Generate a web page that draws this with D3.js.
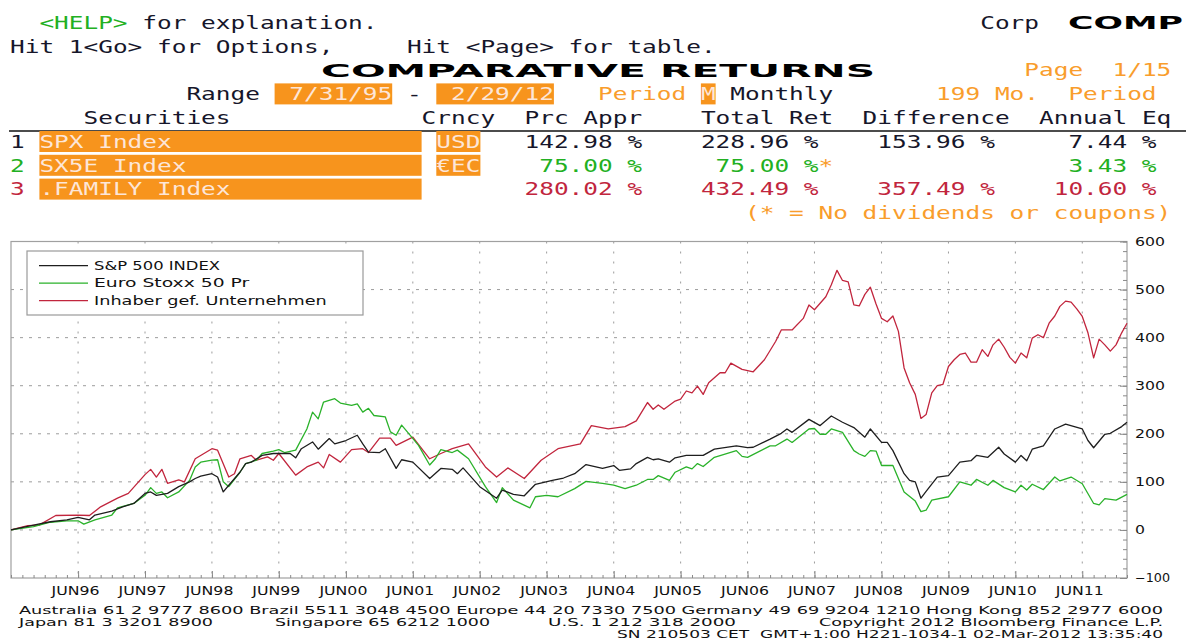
<!DOCTYPE html>
<html>
<head>
<meta charset="utf-8">
<script src="https://cdn.jsdelivr.net/npm/d3@7"></script>
<style>
  body { margin: 0; background: #fff; }
  svg { display: block; }
  text { white-space: pre; }
</style>
</head>
<body>
<div id="main"></div>
<script>
// ---------------- data ----------------
// chart series, months counted from the end of June 1995 (0) to end of Feb 2012 (200)
const seriesNames = ["S&P 500 INDEX", "Euro Stoxx 50 Pr", "Inhaber gef. Unternehmen"];
const seriesColors = ["#1e1e1e", "#2ab22a", "#c1253d"];

const spxMonths = [0,4,7,10,12,14,15,18,20,22,24,25,26,28,30,32,33,34,36,37,38,39,41,42,43,45,47,48,50,51,52,54,55,57,58,60,62,63,64,66,67,69,70,72,75,77,79,80,81,84,87,88,90,92,94,97,99,
  101,103,106,108,109,111,112,114,115,116,118,119,121,124,126,130,132,133,136,138,139,140,143,145,147,149,151,153,154,156,157,158,160,161,162,163,164,166,168,170,172,173,175,177,178,180,181,182,183,185,187,189,192,193,194,196,197,199,200];
const spxValues = [0,10,17,21,26,21,31,39,48,55,76,79,72,76,90,100,107,112,117,110,79,93,120,138,141,155,159,159,159,150,169,183,168,190,179,186,197,179,162,161,169,128,146,141,107,128,126,117,129,90,66,83,74,71,95,103,108,
  117,136,128,134,124,127,138,151,146,148,141,150,155,155,168,175,171,172,189,201,210,203,230,217,237,224,213,193,210,182,182,165,117,103,100,66,80,110,113,141,144,155,151,172,158,141,155,144,168,175,210,220,210,186,171,199,201,215,224];

const sx5eMonths = [0,4,7,10,12,13,15,18,19,22,24,25,26,27,28,30,32,33,34,36,37,38,39,41,42,44,45,47,48,49,51,53,54,55,56,58,59,61,62,63,64,65,67,68,69,70,71,73,75,76,77,79,80,82,85,87,88,90,93,94,96,98,
  101,103,106,108,110,112,114,115,116,118,119,121,122,123,124,126,130,131,132,136,137,139,140,143,144,145,146,147,149,151,152,153,154,155,156,158,160,162,163,164,165,168,170,172,173,175,176,178,180,181,182,183,185,187,188,190,192,194,195,196,198,200];
const sx5eValues = [0,7,16,19,19,12,21,31,46,55,72,88,76,79,67,79,103,131,141,145,146,100,90,120,138,145,159,164,167,161,166,210,245,231,266,273,264,259,262,245,253,238,235,204,197,218,204,176,135,148,167,161,166,148,90,57,88,62,46,69,72,69,
  86,101,97,93,86,93,105,105,113,103,120,131,127,138,132,151,165,153,151,175,175,189,182,210,211,199,199,210,203,165,158,153,165,164,134,134,79,60,38,41,62,69,100,93,105,93,103,88,79,93,83,95,84,110,102,110,96,55,52,65,62,74];

const familyMonths = [0,3,5,8,12,14,16,19,21,24,25,26,27,28,30,31,33,36,37,39,40,41,43,44,46,47,48,51,53,55,56,57,59,61,63,64,66,68,69,72,75,77,79,82,85,87,89,92,95,98,
  102,104,107,110,112,114,115,116,117,119,120,121,122,123,124,125,127,128,129,131,133,135,137,138,140,142,143,144,146,147,148,149,150,151,152,153,154,155,156,157,158,159,160,161,162,163,164,165,166,167,168,169,170,171,172,173,174,175,176,177,178,179,180,181,182,183,184,185,186,187,188,189,190,191,192,193,194,195,196,197,198,199,200];
const familyValues = [0,9,10,30,31,30,48,66,76,115,126,110,126,97,104,100,148,169,166,110,117,148,155,145,152,145,159,114,131,141,129,157,141,167,169,161,191,191,176,193,148,159,169,179,131,110,129,107,145,169,
  179,217,210,215,227,265,251,260,251,268,272,289,285,299,282,306,327,327,347,334,329,354,392,416,416,440,468,458,485,510,540,519,516,468,466,490,505,470,440,433,445,413,337,306,282,232,240,285,300,303,340,354,365,368,349,349,375,361,385,397,380,359,347,368,358,399,406,400,430,445,465,476,474,460,444,410,358,397,385,372,385,410,430];

const yTicks = [-100, 0, 100, 200, 300, 400, 500, 600];
const yGrid = [0, 100, 200, 300, 400, 500];
const yearLabels = ["JUN96","JUN97","JUN98","JUN99","JUN00","JUN01","JUN02","JUN03",
  "JUN04","JUN05","JUN06","JUN07","JUN08","JUN09","JUN10","JUN11"];

// comparison table
const secNames = ["SPX Index", "SX5E Index", ".FAMILY Index"];
const secCurrency = ["USD", "\u20acEC", ""];
const prcAppr = ["142.98", "75.00", "280.02"];
const totalRet = ["228.96", "75.00", "432.49"];
const difference = ["153.96", "", "357.49"];
const annualEq = ["7.44", "3.43", "10.60"];
const secColors = ["#16162a", "#22b022", "#c1253d"];

// ---------------- page ----------------
const W = 1186, H = 641;
const orange = "#f7941d", orangeText = "#f99d2c", boxText = "#fde6d8", dark = "#16162a", green = "#22b022";

const svg = d3.select("#main")
    .append("svg")
    .attr("width", W)
    .attr("height", H)

// terminal header: 80 column grid
const cw = 14.7, x0 = 10;
const rowY = r => 22.5 + r * 23.8;
const head = svg.append("g")

function cell(col, row, str, color) {
    return head.append("text")
        .attr("x", x0 + col * cw)
        .attr("y", rowY(row) + 6.2)
        .attr("fill", color)
        .style("font-family", "'DejaVu Sans Mono', monospace")
        .style("font-size", "17px")
        .attr("textLength", str.length * cw)
        .attr("lengthAdjust", "spacingAndGlyphs")
        .text(str)
}
function box(col, n, row) {
    head.append("rect")
        .attr("x", x0 + col * cw)
        .attr("y", rowY(row) - 10.5)
        .attr("width", n * cw)
        .attr("height", 21)
        .attr("fill", orange)
}
function wide(x, row, str, len) {
    head.append("text")
        .attr("x", x)
        .attr("y", rowY(row) + 6.8)
        .attr("fill", "#000")
        .style("font-family", "'DejaVu Sans', sans-serif")
        .style("font-weight", "bold")
        .style("font-size", "18.5px")
        .attr("textLength", len)
        .attr("lengthAdjust", "spacingAndGlyphs")
        .text(str)
}

cell(2, 0, "<HELP>", green)
cell(9, 0, "for explanation.", dark)
cell(66, 0, "Corp", dark)
wide(1068, 0, "COMP", 115)

cell(0, 1, "Hit 1<Go> for Options,", dark)
cell(27, 1, "Hit <Page> for table.", dark)

wide(321, 2, "COMPARATIVE RETURNS", 554)
cell(69, 2, "Page  1/15", orangeText)

cell(12, 3, "Range", dark)
box(18, 8, 3)
cell(18, 3, " 7/31/95", boxText)
cell(27, 3, "-", dark)
box(29, 8, 3)
cell(29, 3, " 2/29/12", boxText)
cell(40, 3, "Period", orangeText)
box(47, 1, 3)
cell(47, 3, "M", boxText)
cell(49, 3, "Monthly", dark)
cell(63, 3, "199 Mo.", orangeText)
cell(72, 3, "Period", orangeText)

cell(5, 4, "Securities", dark)
cell(28, 4, "Crncy", dark)
cell(35, 4, "Prc Appr", dark)
cell(47, 4, "Total Ret", dark)
cell(58, 4, "Difference", dark)
cell(70, 4, "Annual Eq", dark)
head.append("line")
    .attr("x1", 9).attr("x2", W)
    .attr("y1", 131).attr("y2", 131)
    .attr("stroke", "#111").attr("stroke-width", 1.5)

secNames.forEach((name, i) => {
    const row = 5 + i, c = secColors[i];
    cell(0, row, String(i + 1), c)
    box(2, 26, row)
    cell(2, row, name, boxText)
    if (secCurrency[i]) {
        box(29, 3, row)
        cell(29, row, secCurrency[i], boxText)
    }
    cell(41 - prcAppr[i].length, row, prcAppr[i] + " %", c)
    cell(53 - totalRet[i].length, row, totalRet[i] + " %", c)
    if (difference[i]) cell(65 - difference[i].length, row, difference[i] + " %", c)
    else cell(55, row, "*", orangeText)
    cell(76 - annualEq[i].length, row, annualEq[i] + " %", c)
})
cell(50, 8, "(* = No dividends or coupons)", orangeText)

// ---------------- chart ----------------
const plot = { left: 11, right: 1127, top: 241.5, bottom: 578 };
const monthEnd = m => new Date(1995, 6 + m, 0);

const x = d3.scaleTime()
    .domain([monthEnd(0), monthEnd(200)])
    .range([plot.left, plot.right]);

const y = d3.scaleLinear()
    .domain([-100, 600])
    .range([plot.bottom, plot.top]);

const junTicks = yearLabels.map((d, i) => monthEnd(12 * (i + 1)));
const minorX = d3.range(0, 201, 2).map(monthEnd);
const minorY = d3.range(-100, 601, 20);

const chart = svg.append("g")
const chartFont = "'DejaVu Sans', Verdana, sans-serif";

// grid
chart.append("g")
    .selectAll("line")
    .data(yGrid)
    .join("line")
    .attr("x1", plot.left).attr("x2", plot.right)
    .attr("y1", d => y(d)).attr("y2", d => y(d))
    .attr("stroke", "#9c9c9c")
    .attr("stroke-dasharray", "3,6")

chart.append("g")
    .selectAll("line")
    .data(junTicks)
    .join("line")
    .attr("x1", d => x(d)).attr("x2", d => x(d))
    .attr("y1", plot.top).attr("y2", plot.bottom)
    .attr("stroke", "#9c9c9c")
    .attr("stroke-dasharray", "2,8")

// frame
chart.append("rect")
    .attr("x", plot.left).attr("y", plot.top)
    .attr("width", plot.right - plot.left)
    .attr("height", plot.bottom - plot.top)
    .attr("fill", "none")
    .attr("stroke", "#a0a0a0")
    .attr("stroke-width", 1.2)

// bottom axis: minor ticks every 2 months, major at June
chart.append("g")
    .attr("transform", `translate(0, ${plot.bottom})`)
    .call(d3.axisBottom(x).tickValues(minorX).tickSize(-3).tickFormat(""))
    .call(g => g.select(".domain").remove())
    .call(g => g.selectAll("line").attr("stroke", "#8a8a8a"))

const xAx = chart.append("g")
    .attr("transform", `translate(0, ${plot.bottom})`)
    .call(d3.axisBottom(x).tickValues(junTicks).tickSize(-7).tickPadding(9)
        .tickFormat((d, i) => yearLabels[i]))
xAx.select(".domain").remove()
xAx.selectAll("line").attr("stroke", "#8a8a8a")
xAx.selectAll("text")
    .attr("dx", -3)
    .attr("fill", "#111")
    .style("font-family", chartFont)
    .style("font-size", "11.5px")
    .attr("textLength", 48)
    .attr("lengthAdjust", "spacingAndGlyphs")

// right axis
chart.append("g")
    .attr("transform", `translate(${plot.right}, 0)`)
    .call(d3.axisRight(y).tickValues(minorY).tickSize(-4).tickFormat(""))
    .call(g => g.select(".domain").remove())
    .call(g => g.selectAll("line").attr("stroke", "#8a8a8a"))

const yAx = chart.append("g")
    .attr("transform", `translate(${plot.right}, 0)`)
    .call(d3.axisRight(y).tickValues(yTicks).tickSize(-7).tickPadding(8))
yAx.select(".domain").remove()
yAx.selectAll("line").attr("stroke", "#8a8a8a")
yAx.selectAll("text")
    .attr("fill", "#111")
    .style("font-family", chartFont)
    .style("font-size", "11.5px")
    .attr("textLength", d => String(Math.abs(d)).length * 10 + (d < 0 ? 5 : 0))
    .attr("lengthAdjust", "spacingAndGlyphs")

// lines
const series = [
    { months: familyMonths, values: familyValues, color: seriesColors[2] },
    { months: sx5eMonths, values: sx5eValues, color: seriesColors[1] },
    { months: spxMonths, values: spxValues, color: seriesColors[0] }
];
const line = d3.line()
    .x(d => x(d.date))
    .y(d => y(d.value));

series.forEach(s => {
    const pts = s.months.map((m, i) => ({ date: monthEnd(m), value: s.values[i] }))
    chart.append("path")
        .datum(pts)
        .attr("d", line)
        .attr("fill", "none")
        .attr("stroke", s.color)
        .attr("stroke-width", 1.3)
        .attr("stroke-linejoin", "round")
})

// legend
const legend = chart.append("g")
legend.append("rect")
    .attr("x", 27).attr("y", 251)
    .attr("width", 336).attr("height", 64)
    .attr("fill", "#fff")
    .attr("stroke", "#9a9a9a")
    .attr("stroke-width", 1.2)

const legRow = legend.selectAll(".legRow")
    .data(seriesNames)
    .join("g")
    .attr("class", "legRow")
    .attr("transform", (d, i) => `translate(0, ${265.7 + i * 17.5})`)

legRow.append("line")
    .attr("x1", 39).attr("x2", 88)
    .attr("stroke", (d, i) => seriesColors[i])
    .attr("stroke-width", 1.3)

legRow.append("text")
    .attr("x", 94)
    .attr("y", 4.2)
    .attr("fill", "#111")
    .style("font-family", chartFont)
    .style("font-size", "11.5px")
    .attr("textLength", d => d.length * 9.7)
    .attr("lengthAdjust", "spacingAndGlyphs")
    .text(d => d)

// footer
const footer = [
    { x: 19, y: 613.8, w: 1144, t: "Australia 61 2 9777 8600 Brazil 5511 3048 4500 Europe 44 20 7330 7500 Germany 49 69 9204 1210 Hong Kong 852 2977 6000" },
    { x: 19, y: 626.4, w: 194, t: "Japan 81 3 3201 8900" },
    { x: 275, y: 626.4, w: 215, t: "Singapore 65 6212 1000" },
    { x: 548, y: 626.4, w: 188, t: "U.S. 1 212 318 2000" },
    { x: 819, y: 626.4, w: 344, t: "Copyright 2012 Bloomberg Finance L.P." },
    { x: 617, y: 638.2, w: 546, t: "SN 210503 CET  GMT+1:00 H221-1034-1 02-Mar-2012 13:35:40" }
];
svg.append("g")
    .selectAll("text")
    .data(footer)
    .join("text")
    .attr("x", d => d.x)
    .attr("y", d => d.y)
    .attr("fill", "#111")
    .style("font-family", chartFont)
    .style("font-size", "11px")
    .attr("textLength", d => d.w)
    .attr("lengthAdjust", "spacingAndGlyphs")
    .text(d => d.t)
</script>
</body>
</html>
